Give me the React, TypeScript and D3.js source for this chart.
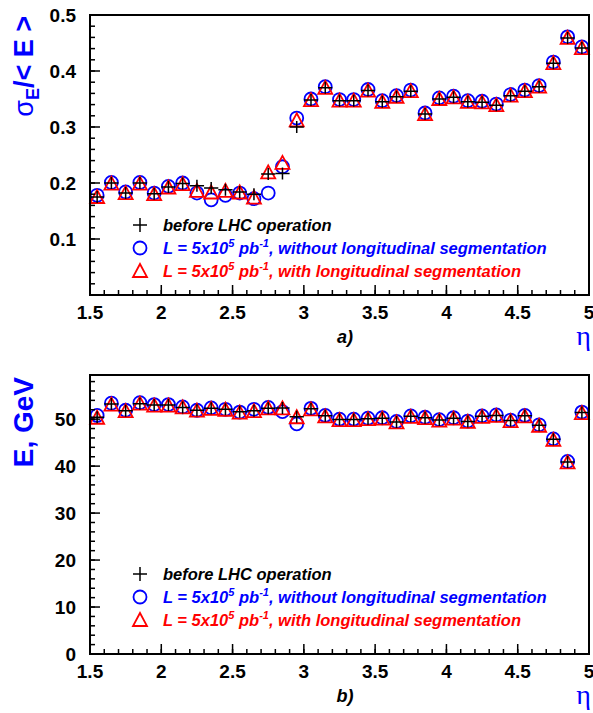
import React from "react";
import * as d3 from "d3";

// eta bin centres
const etaBins = [
  1.55, 1.65, 1.75, 1.85, 1.95, 2.05, 2.15, 2.25, 2.35, 2.45, 2.55, 2.65,
  2.75, 2.85, 2.95, 3.05, 3.15, 3.25, 3.35, 3.45, 3.55, 3.65, 3.75, 3.85,
  3.95, 4.05, 4.15, 4.25, 4.35, 4.45, 4.55, 4.65, 4.75, 4.85, 4.95,
];

// a) relative resolution sigma_E / <E>
const resBefore = [
  0.175, 0.2, 0.182, 0.2, 0.181, 0.193, 0.199, 0.195, 0.191, 0.188, 0.184, 0.18,
  0.216, 0.217, 0.3, 0.348, 0.37, 0.347, 0.347, 0.365, 0.345, 0.354, 0.364, 0.323,
  0.35, 0.353, 0.345, 0.344, 0.339, 0.356, 0.364, 0.372, 0.414, 0.459, 0.441,
];
const resNoSeg = [
  0.178, 0.201, 0.184, 0.201, 0.182, 0.194, 0.2, 0.182, 0.17, 0.178, 0.182, 0.172,
  0.182, 0.229, 0.316, 0.35, 0.372, 0.349, 0.349, 0.367, 0.347, 0.356, 0.366, 0.325,
  0.352, 0.355, 0.347, 0.346, 0.341, 0.358, 0.366, 0.374, 0.416, 0.461, 0.443,
];
const resSeg = [
  0.175, 0.199, 0.182, 0.199, 0.18, 0.192, 0.198, 0.186, 0.183, 0.186, 0.183, 0.174,
  0.219, 0.236, 0.312, 0.348, 0.37, 0.347, 0.347, 0.365, 0.345, 0.354, 0.364, 0.323,
  0.35, 0.353, 0.345, 0.344, 0.339, 0.356, 0.364, 0.372, 0.414, 0.459, 0.441,
];

// b) mean energy, GeV
const enBefore = [
  50.4, 53.2, 51.8, 53.3, 53.0, 53.0, 52.5, 51.9, 52.3, 52.1, 51.6, 51.8,
  52.3, 52.4, 50.5, 52.2, 50.7, 49.9, 49.9, 50.1, 50.2, 49.4, 50.6, 50.3,
  49.8, 50.2, 49.5, 50.6, 50.8, 49.7, 50.7, 48.7, 45.7, 40.9, 51.4,
];
const enNoSeg = [
  50.8, 53.4, 51.9, 53.5, 53.1, 53.1, 52.6, 51.9, 52.4, 52.1, 51.5, 52.1,
  52.5, 51.6, 49.0, 52.3, 50.8, 50.0, 50.0, 50.2, 50.3, 49.5, 50.7, 50.4,
  49.9, 50.3, 49.6, 50.7, 50.9, 49.8, 50.8, 48.8, 45.8, 41.0, 51.5,
];
const enSeg = [
  50.3, 53.1, 51.7, 53.3, 52.9, 52.9, 52.5, 51.8, 52.2, 52.0, 51.4, 51.7,
  52.3, 52.3, 50.4, 52.1, 50.6, 49.8, 49.8, 50.0, 50.1, 49.3, 50.5, 50.2,
  49.7, 50.1, 49.4, 50.5, 50.7, 49.6, 50.6, 48.6, 45.6, 40.8, 51.3,
];

const xTicks = [1.5, 2, 2.5, 3, 3.5, 4, 4.5, 5];
const xTickLabels = ["1.5", "2", "2.5", "3", "3.5", "4", "4.5", "5"];
const resTicks = [0.1, 0.2, 0.3, 0.4, 0.5];
const resTickLabels = ["0.1", "0.2", "0.3", "0.4", "0.5"];
const enTicks = [0, 10, 20, 30, 40, 50];
const enTickLabels = ["0", "10", "20", "30", "40", "50"];

const FONT = "'Liberation Sans', Arial, sans-serif";
const left = 90;
const right = 589;
const binHalf = 0.05;

const Legend = ({ x, y }) => {
  const rows = [
    { color: "black", text: null },
    { color: "blue", text: ", without longitudinal segmentation" },
    { color: "red", text: ", with longitudinal segmentation" },
  ];
  const gap = 23;
  return (
    <g fontFamily={FONT} fontWeight="bold" fontStyle="italic" fontSize={16.5}>
      {/* plus */}
      <path d={`M${x - 7},${y}h14M${x},${y - 7}v14`} stroke="black" strokeWidth={1.5} />
      <circle cx={x} cy={y + gap} r={6.5} fill="none" stroke="blue" strokeWidth={1.8} />
      <path
        d={`M${x},${y + 2 * gap - 7}L${x + 7},${y + 2 * gap + 6}L${x - 7},${y + 2 * gap + 6}Z`}
        fill="none"
        stroke="red"
        strokeWidth={1.8}
      />
      {rows.map((r, i) => (
        <text key={i} x={x + 23} y={y + i * gap + 6} fill={r.color}>
          {r.text === null ? (
            "before LHC operation"
          ) : (
            <>
              L = 5x10<tspan dy={-7} fontSize={11}>5</tspan>
              <tspan dy={7}> pb</tspan>
              <tspan dy={-7} fontSize={11}>-1</tspan>
              <tspan dy={7}>{r.text}</tspan>
            </>
          )}
        </text>
      ))}
    </g>
  );
};

const Panel = ({ top, bottom, yDomain, yMajor, yLabels, yMinorStep, series, letter, legendY, title }) => {
  const x = d3.scaleLinear().domain([1.5, 5]).range([left, right]);
  const y = d3.scaleLinear().domain(yDomain).range([bottom, top]);
  const xMinor = d3.range(1.5, 5.0001, 0.1);
  const yMinor = d3.range(yDomain[0], yDomain[1] + 1e-9, yMinorStep);
  const [before, noSeg, seg] = series;

  return (
    <g>
      {/* data: circles, triangles, then plus markers with bin-width bars */}
      {noSeg.map((v, i) => (
        <circle key={"c" + i} cx={x(etaBins[i])} cy={y(v)} r={6.5} fill="none" stroke="blue" strokeWidth={1.8} />
      ))}
      {seg.map((v, i) => {
        const cx = x(etaBins[i]);
        const cy = y(v);
        return (
          <path
            key={"t" + i}
            d={`M${cx},${cy - 7}L${cx + 7},${cy + 6}L${cx - 7},${cy + 6}Z`}
            fill="none"
            stroke="red"
            strokeWidth={1.8}
          />
        );
      })}
      {before.map((v, i) => {
        const cx = x(etaBins[i]);
        const cy = y(v);
        return (
          <path
            key={"p" + i}
            d={`M${x(etaBins[i] - binHalf)},${cy}H${x(etaBins[i] + binHalf)}M${cx},${cy - 6}v12`}
            stroke="black"
            strokeWidth={1.5}
          />
        );
      })}

      {/* frame */}
      <rect x={left} y={top} width={right - left} height={bottom - top} fill="none" stroke="black" strokeWidth={2} />

      {/* x ticks (inside) */}
      {xMinor.map((t, i) => (
        <line key={"xm" + i} x1={x(t)} x2={x(t)} y1={bottom} y2={bottom - 5} stroke="black" strokeWidth={1.5} />
      ))}
      {xTicks.map((t, i) => (
        <line key={"xM" + i} x1={x(t)} x2={x(t)} y1={bottom} y2={bottom - 10} stroke="black" strokeWidth={1.5} />
      ))}
      {xTicks.map((t, i) => (
        <text
          key={"xl" + i}
          x={x(t)}
          y={bottom + 24}
          textAnchor="middle"
          fontFamily={FONT}
          fontWeight="bold"
          fontSize={19}
        >
          {xTickLabels[i]}
        </text>
      ))}

      {/* y ticks (inside) */}
      {yMinor.map((t, i) => (
        <line key={"ym" + i} x1={left} x2={left + 5} y1={y(t)} y2={y(t)} stroke="black" strokeWidth={1.5} />
      ))}
      {yMajor.map((t, i) => (
        <line key={"yM" + i} x1={left} x2={left + 10} y1={y(t)} y2={y(t)} stroke="black" strokeWidth={1.5} />
      ))}
      {yMajor.map((t, i) => (
        <text
          key={"yl" + i}
          x={left - 14}
          y={y(t) + 7}
          textAnchor="end"
          fontFamily={FONT}
          fontWeight="bold"
          fontSize={19}
        >
          {yLabels[i]}
        </text>
      ))}

      {title}

      <text x={345} y={bottom + 48} textAnchor="middle" fontFamily={FONT} fontWeight="bold" fontStyle="italic" fontSize={18}>
        {letter}
      </text>
      <text x={591} y={bottom + 50} textAnchor="end" fill="blue" fontFamily="'Liberation Serif', serif" fontSize={28}>
        η
      </text>

      <Legend x={140} y={legendY} />
    </g>
  );
};

export default function App() {
  return (
    <svg width={593} height={713} style={{ position: "absolute", left: 0, top: 0, background: "white" }}>
      <Panel
        top={15}
        bottom={295}
        yDomain={[0, 0.5]}
        yMajor={resTicks}
        yLabels={resTickLabels}
        yMinorStep={0.02}
        series={[resBefore, resNoSeg, resSeg]}
        letter="a)"
        legendY={225}
        title={
          <text
            transform="translate(33,16) rotate(-90)"
            textAnchor="end"
            fill="blue"
            fontFamily={FONT}
            fontWeight="bold"
            fontSize={27}
          >
            <tspan fontWeight="normal">σ</tspan>
            <tspan dy={6} fontSize={18}>E</tspan>
            <tspan dy={-6}>/&lt; E &gt;</tspan>
          </text>
        }
      />
      <Panel
        top={375}
        bottom={654}
        yDomain={[0, 59.4]}
        yMajor={enTicks}
        yLabels={enTickLabels}
        yMinorStep={2}
        series={[enBefore, enNoSeg, enSeg]}
        letter="b)"
        legendY={574}
        title={
          <text
            transform="translate(33,377) rotate(-90)"
            textAnchor="end"
            fill="blue"
            fontFamily={FONT}
            fontWeight="bold"
            fontSize={28}
          >
            E, GeV
          </text>
        }
      />
    </svg>
  );
}
